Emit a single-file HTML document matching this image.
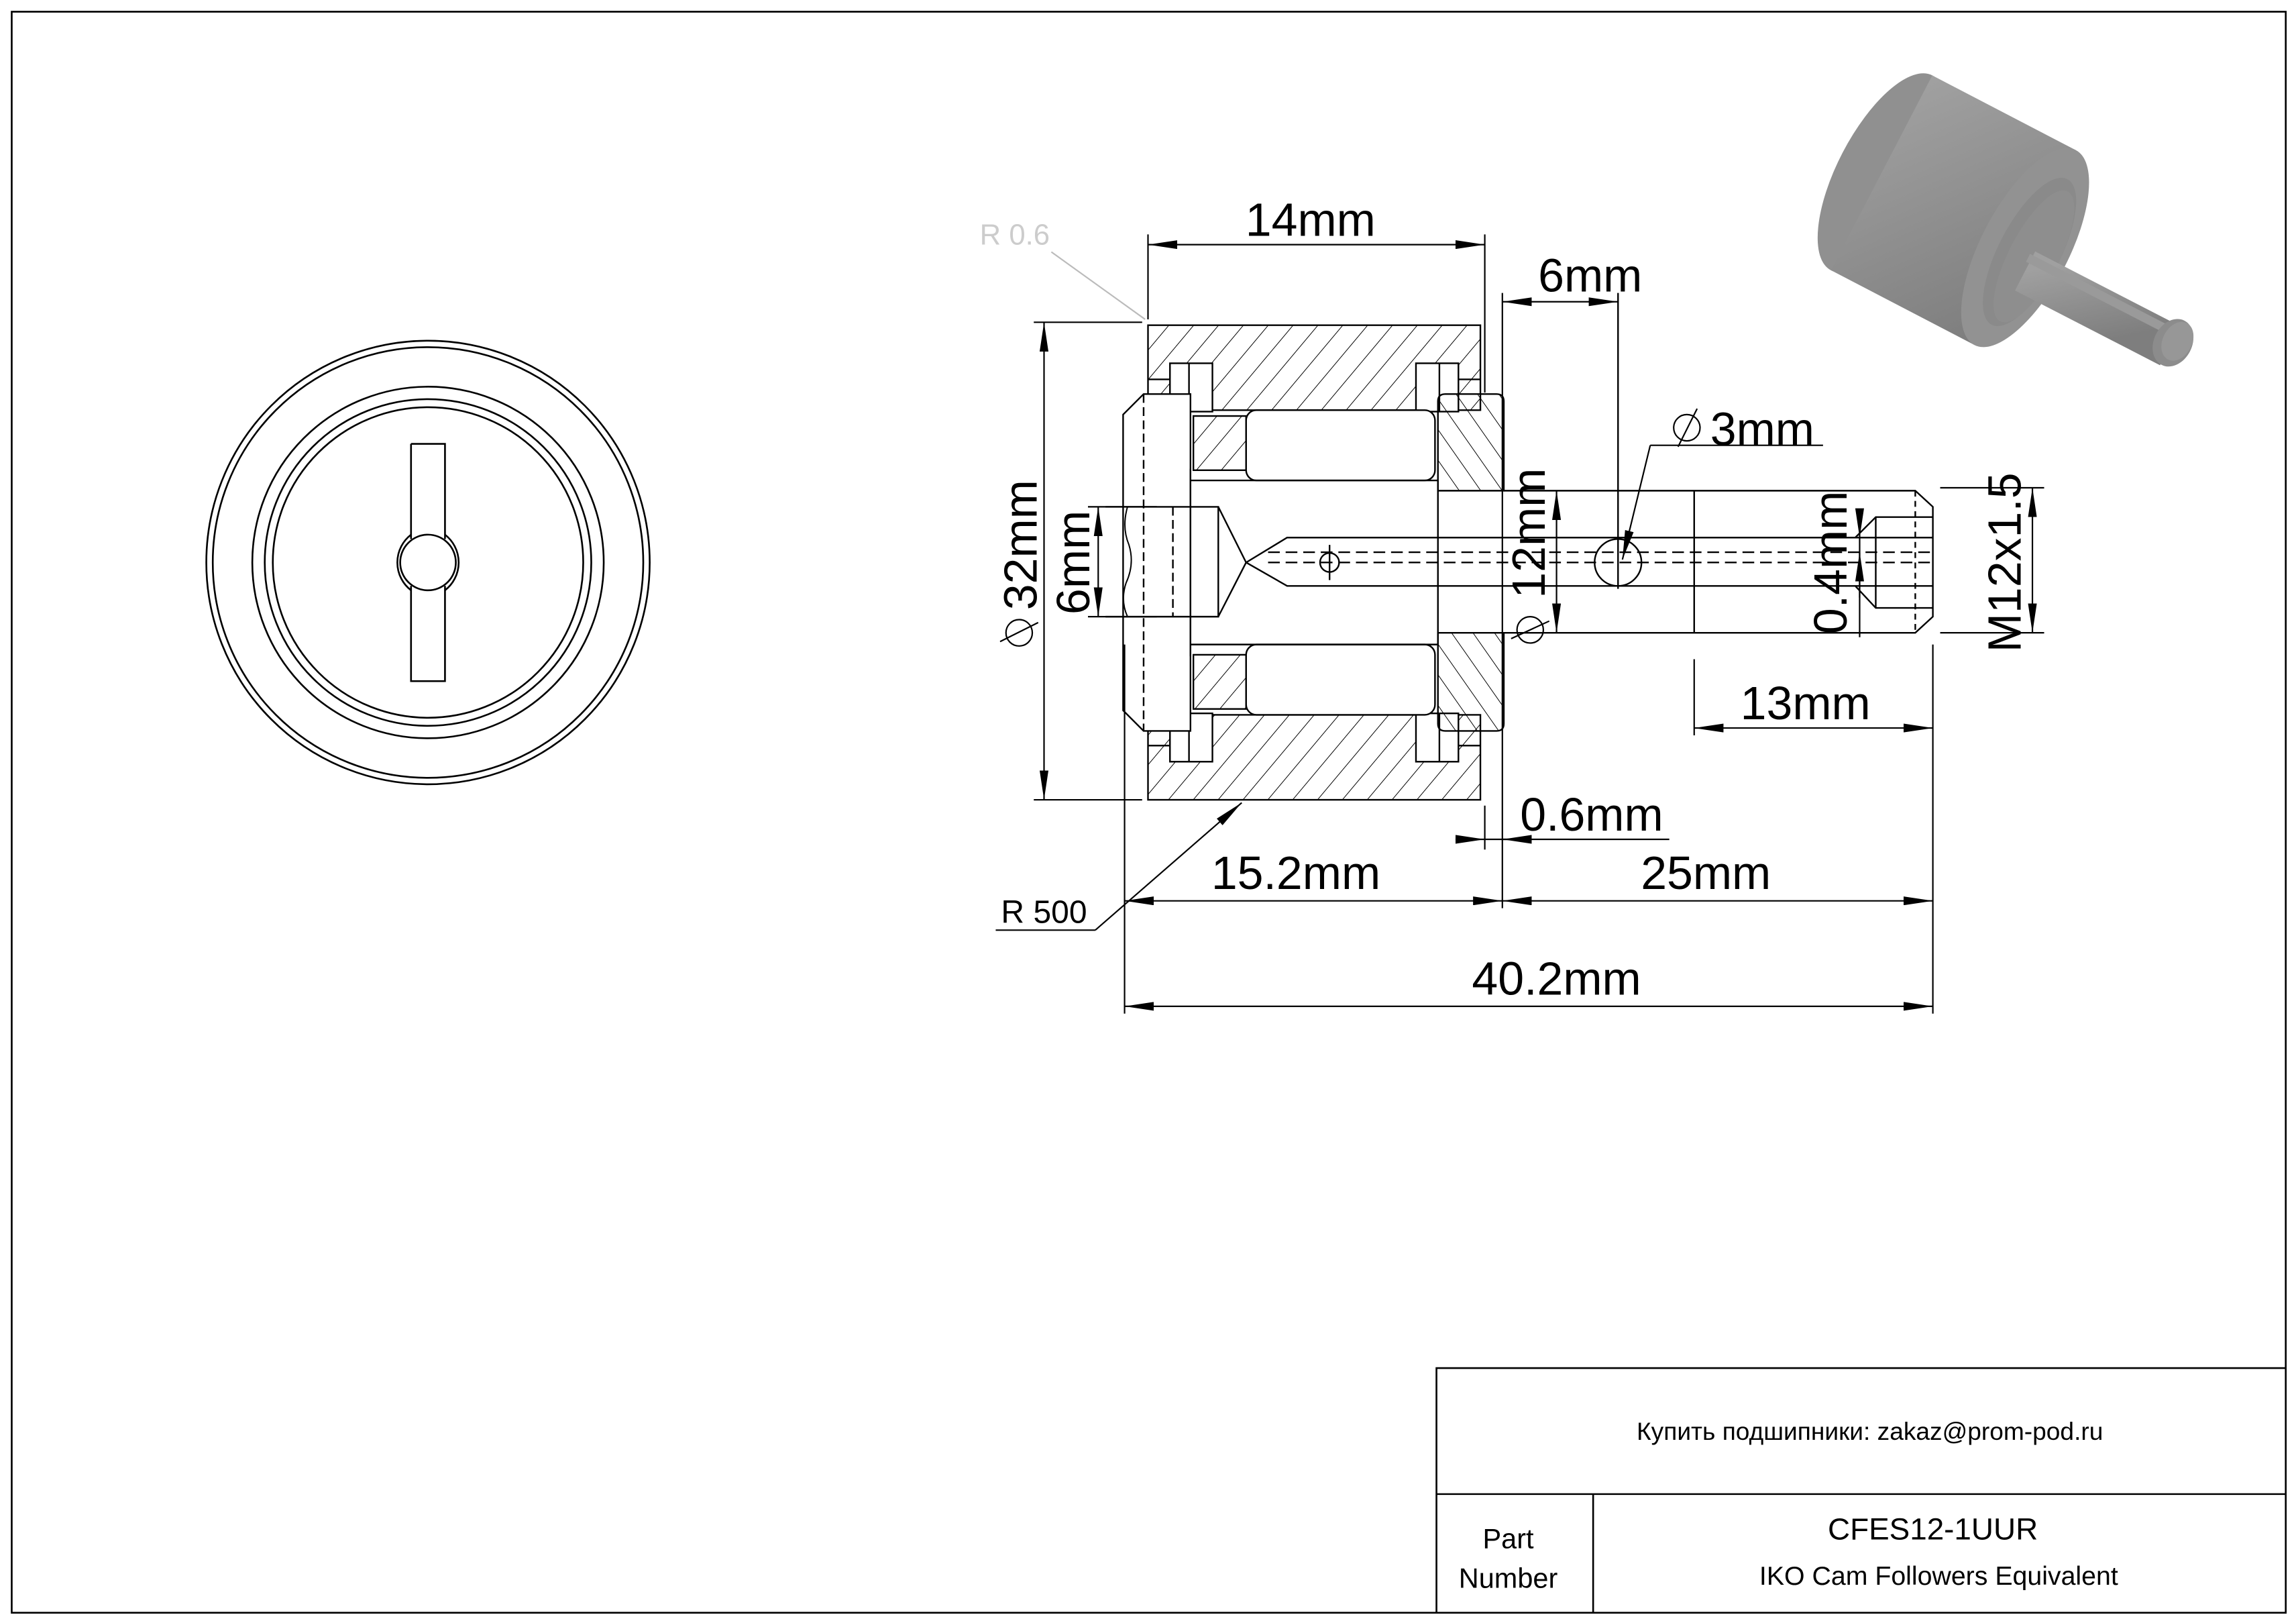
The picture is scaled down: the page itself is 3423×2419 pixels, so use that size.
<!DOCTYPE html>
<html><head><meta charset="utf-8"><style>
html,body{margin:0;padding:0;background:#fff}
svg{display:block}
text{font-family:"Liberation Sans","DejaVu Sans",sans-serif;fill:#000}
</style></head><body>
<svg xmlns="http://www.w3.org/2000/svg" width="3423" height="2419" viewBox="0 0 1568 1108" preserveAspectRatio="none">
<defs>
<pattern id="h1" patternUnits="userSpaceOnUse" width="13" height="13" patternTransform="rotate(40)">
<line x1="0" y1="0" x2="0" y2="13" stroke="#000" stroke-width="0.9"/></pattern>
<pattern id="h2" patternUnits="userSpaceOnUse" width="12" height="12" patternTransform="rotate(-35)">
<line x1="0" y1="0" x2="0" y2="12" stroke="#000" stroke-width="0.9"/></pattern>
<marker id="a" viewBox="0 0 20 6" refX="20" refY="3" markerWidth="20" markerHeight="6" markerUnits="userSpaceOnUse" orient="auto-start-reverse">
<path d="M0,0 L20,3 L0,6 z" fill="#000"/></marker>
<linearGradient id="g1" x1="0.3" y1="0" x2="0.7" y2="1"><stop offset="0" stop-color="#a2a2a2"/><stop offset="1" stop-color="#7c7c7c"/></linearGradient>
<linearGradient id="g2" x1="0" y1="0" x2="0.4" y2="1"><stop offset="0" stop-color="#a0a0a0"/><stop offset="1" stop-color="#7e7e7e"/></linearGradient>
</defs>
<rect x="0" y="0" width="1568" height="1108" fill="#fff"/>
<rect x="8" y="8" width="1553" height="1093" fill="none" stroke="#000" stroke-width="1.2"/>

<!-- title block -->
<g fill="none" stroke="#000" stroke-width="1.2">
<polyline points="981,1101 981,934 1561,934"/>
<line x1="981" y1="1020" x2="1561" y2="1020"/>
<line x1="1088" y1="1020" x2="1088" y2="1101"/>
</g>
<text x="1277" y="983" font-size="17" text-anchor="middle">Купить подшипники: zakaz@prom-pod.ru</text>
<text x="1030" y="1057" font-size="19" text-anchor="middle">Part</text>
<text x="1030" y="1084" font-size="19" text-anchor="middle">Number</text>
<text x="1320" y="1051" font-size="21" text-anchor="middle">CFES12-1UUR</text>
<text x="1324" y="1082" font-size="18" text-anchor="middle">IKO Cam Followers Equivalent</text>

<!-- left view -->
<g fill="none" stroke="#000" stroke-width="1.2">
<circle cx="292.3" cy="384" r="151.4"/>
<circle cx="292.3" cy="384" r="147"/>
<circle cx="292.3" cy="384" r="120"/>
<circle cx="292.3" cy="384" r="111.5"/>
<circle cx="292.3" cy="384" r="106"/>
<path d="M280.7,365 A24,24 0 0 0 280.7,403 M303.9,365 A24,24 0 0 1 303.9,403"/>
<path d="M280.7,303 L303.9,303 L303.9,368 M280.7,368 L280.7,303 M280.7,400 L280.7,465 L303.9,465 L303.9,400"/>
<circle cx="292.3" cy="384" r="19"/>
</g>

<!-- section view -->
<g stroke="#000" stroke-width="1.1">
<path d="M784,222 L1011,222 L1011,280 L784,280 Z" fill="url(#h1)"/>
<path d="M784,488 L1011,488 L1011,546 L784,546 Z" fill="url(#h1)"/>
<rect x="799" y="248" width="29" height="33" fill="#fff"/>
<rect x="967" y="248" width="29" height="33" fill="#fff"/>
<rect x="799" y="487" width="29" height="33" fill="#fff"/>
<rect x="967" y="487" width="29" height="33" fill="#fff"/>
<g fill="none">
<line x1="812" y1="248" x2="812" y2="281"/><line x1="983" y1="248" x2="983" y2="281"/>
<line x1="812" y1="487" x2="812" y2="520"/><line x1="983" y1="487" x2="983" y2="520"/>
<line x1="784" y1="259" x2="799" y2="259"/><line x1="996" y1="259" x2="1011" y2="259"/>
<line x1="784" y1="509" x2="799" y2="509"/><line x1="996" y1="509" x2="1011" y2="509"/>
</g>
<rect x="815" y="284" width="36" height="37" fill="url(#h1)"/>
<rect x="815" y="447" width="36" height="37" fill="url(#h1)"/>
<rect x="851" y="280" width="129" height="48" rx="7" fill="#fff"/>
<rect x="851" y="440" width="129" height="48" rx="7" fill="#fff"/>
<path d="M982,274 Q982,269 987,269 L1022,269 Q1027,269 1027,274 L1027,335 L982,335 Z" fill="url(#h2)"/>
<path d="M982,432 L1027,432 L1027,494 Q1027,499 1022,499 L987,499 Q982,499 982,494 Z" fill="url(#h2)"/>
<g fill="none">
<line x1="813" y1="328" x2="982" y2="328"/>
<line x1="813" y1="440" x2="982" y2="440"/>
<line x1="982" y1="328" x2="982" y2="440"/>
<path d="M1027,335 L1308,335 L1320,346 L1320,421 L1308,432 L1027,432"/>
<line x1="1157" y1="335" x2="1157" y2="432"/>
<line x1="1308" y1="335" x2="1308" y2="432" stroke-dasharray="4,3"/>
<path d="M781,269 L813,269 L813,499 L781,499 L767,485 L767,283 Z" fill="#fff"/>
<line x1="781" y1="269" x2="781" y2="499" stroke-dasharray="6,3"/>
<line x1="813" y1="320" x2="813" y2="448"/>
<path d="M755,346 L832,346 L832,421 L755,421"/>
<line x1="801" y1="346" x2="801" y2="421" stroke-dasharray="6,3"/>
<path d="M770,346 Q766,360 771,372 Q775,385 769,398 Q765,410 770,421" stroke-width="0.9"/>
<path d="M832,346 L851,384 L832,421"/>
<path d="M851,384 L879,367 L1320,367 M851,384 L879,400 L1320,400"/>
<line x1="866" y1="377" x2="1320" y2="377" stroke-dasharray="8,4"/>
<line x1="866" y1="384" x2="1320" y2="384" stroke-dasharray="8,4"/>
<circle cx="908" cy="384" r="6.5"/>
<line x1="908" y1="372" x2="908" y2="396"/>
<ellipse cx="1105" cy="384" rx="16" ry="16"/>
<line x1="1105" y1="200" x2="1105" y2="402"/>
<path d="M1320,353 L1281,353 L1267,367 M1267,400 L1281,415 L1320,415 M1281,353 L1281,415"/>
</g>
</g>

<!-- dimensions -->
<g fill="none" stroke="#000" stroke-width="1">
<line x1="784" y1="160" x2="784" y2="218"/>
<line x1="1014" y1="160" x2="1014" y2="268"/>
<line x1="1026" y1="200" x2="1026" y2="620"/>
<line x1="768" y1="440" x2="768" y2="692"/>
<line x1="1320" y1="440" x2="1320" y2="692"/>
<line x1="1014" y1="550" x2="1014" y2="580"/>
<line x1="1157" y1="450" x2="1157" y2="502"/>
<line x1="706" y1="220" x2="780" y2="220"/>
<line x1="706" y1="546" x2="780" y2="546"/>
<line x1="743" y1="346" x2="790" y2="346"/>
<line x1="743" y1="421" x2="790" y2="421"/>
<line x1="1325" y1="333" x2="1396" y2="333"/>
<line x1="1325" y1="432" x2="1396" y2="432"/>
<line x1="784" y1="167" x2="1014" y2="167" marker-start="url(#a)" marker-end="url(#a)"/>
<line x1="1026" y1="206" x2="1105" y2="206" marker-start="url(#a)" marker-end="url(#a)"/>
<line x1="713" y1="220" x2="713" y2="546" marker-start="url(#a)" marker-end="url(#a)"/>
<line x1="750" y1="346" x2="750" y2="421" marker-start="url(#a)" marker-end="url(#a)"/>
<line x1="1063" y1="335" x2="1063" y2="432" marker-start="url(#a)" marker-end="url(#a)"/>
<line x1="1270" y1="360" x2="1270" y2="367" marker-end="url(#a)"/>
<line x1="1270" y1="408" x2="1270" y2="377" marker-end="url(#a)"/>
<line x1="1270" y1="367" x2="1270" y2="435"/>
<line x1="1388" y1="333" x2="1388" y2="432" marker-start="url(#a)" marker-end="url(#a)"/>
<line x1="1157" y1="497" x2="1320" y2="497" marker-start="url(#a)" marker-end="url(#a)"/>
<line x1="994" y1="573" x2="1014" y2="573" marker-end="url(#a)"/>
<line x1="1046" y1="573" x2="1026" y2="573" marker-end="url(#a)"/>
<line x1="1014" y1="573" x2="1140" y2="573"/>
<line x1="768" y1="615" x2="1026" y2="615" marker-start="url(#a)" marker-end="url(#a)"/>
<line x1="1026" y1="615" x2="1320" y2="615" marker-start="url(#a)" marker-end="url(#a)"/>
<line x1="768" y1="687" x2="1320" y2="687" marker-start="url(#a)" marker-end="url(#a)"/>
<polyline points="1245,304 1127,304"/>
<line x1="1127" y1="304" x2="1108" y2="382" marker-end="url(#a)"/>
<polyline points="680,635 748,635"/>
<line x1="748" y1="635" x2="848" y2="548" marker-end="url(#a)"/>
<line x1="718" y1="172" x2="782" y2="218" stroke="#bbb"/>
<circle cx="1152" cy="292" r="9"/><line x1="1146" y1="305" x2="1159" y2="279"/>
<circle cx="696" cy="432" r="9"/><line x1="683" y1="438" x2="709" y2="425"/>
<circle cx="1045" cy="430" r="9"/><line x1="1032" y1="436" x2="1058" y2="424"/>
</g>
<g font-size="32">
<text x="895" y="161" text-anchor="middle">14mm</text>
<text x="1086" y="199" text-anchor="middle">6mm</text>
<text x="1168" y="304">3mm</text>
<text x="1233" y="491" text-anchor="middle">13mm</text>
<text x="1087" y="567" text-anchor="middle">0.6mm</text>
<text x="885" y="607" text-anchor="middle">15.2mm</text>
<text x="1165" y="607" text-anchor="middle">25mm</text>
<text x="1063" y="679" text-anchor="middle">40.2mm</text>
<text transform="translate(708,372) rotate(-90)" text-anchor="middle">32mm</text>
<text transform="translate(744,384) rotate(-90)" text-anchor="middle">6mm</text>
<text transform="translate(1055,364) rotate(-90)" text-anchor="middle">12mm</text>
<text transform="translate(1261,384) rotate(-90)" text-anchor="middle">0.4mm</text>
<text transform="translate(1380,384) rotate(-90)" text-anchor="middle">M12x1.5</text>
</g>
<text x="713" y="630" font-size="22" text-anchor="middle">R 500</text>
<text x="693" y="167" font-size="20" text-anchor="middle" style="fill:#ccc">R 0.6</text>

<!-- 3D view -->
<g>
<ellipse cx="1285" cy="118" rx="30" ry="75" transform="rotate(27.5 1285 118)" fill="#909090"/>
<path d="M1250.4,184.5 L1319.6,51.5 L1417.6,102.5 L1348.4,235.5 Z" fill="url(#g1)"/>
<ellipse cx="1383" cy="169" rx="30" ry="75" transform="rotate(27.5 1383 169)" fill="#929292"/>
<ellipse cx="1386" cy="172" rx="21" ry="56" transform="rotate(27.5 1386 172)" fill="#8a8a8a"/>
<ellipse cx="1389" cy="175" rx="17" ry="50" transform="rotate(27.5 1389 175)" fill="#8e8e8e"/>
<line x1="1383" y1="185" x2="1482" y2="236" stroke="url(#g2)" stroke-width="30" stroke-linecap="butt"/>
<line x1="1385" y1="176" x2="1484" y2="227" stroke="#9a9a9a" stroke-width="6"/>
<ellipse cx="1484" cy="234" rx="13" ry="17" transform="rotate(27.5 1484 234)" fill="#8c8c8c"/>
<ellipse cx="1487" cy="233" rx="10" ry="14" transform="rotate(27.5 1487 233)" fill="#979797"/>
</g>
</svg>
</body></html>
